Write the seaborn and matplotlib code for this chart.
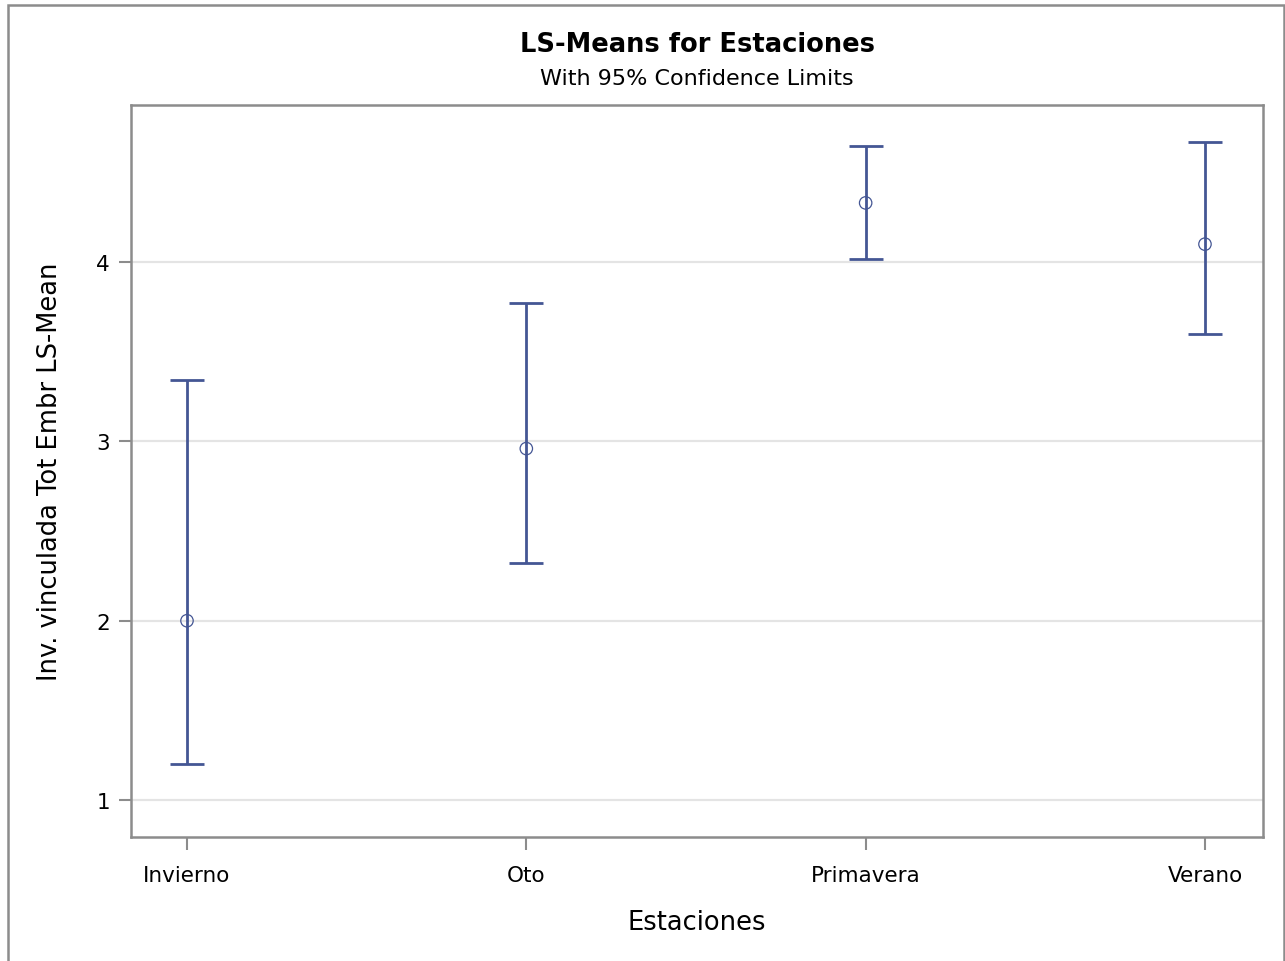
import numpy as np
import pandas as pd
import matplotlib
matplotlib.use("Agg")
import matplotlib.pyplot as plt
import seaborn as sns
from matplotlib.patches import Rectangle

estaciones = ["Invierno", "Oto", "Primavera", "Verano"]
ls_mean = [2.00, 2.96, 4.33, 4.10]
lower_cl = [1.20, 2.32, 4.02, 3.60]
upper_cl = [3.34, 3.77, 4.65, 4.67]
y_ticks = [1, 2, 3, 4]

df = pd.DataFrame({"Estaciones": estaciones, "mean": ls_mean,
                   "lower": lower_cl, "upper": upper_cl})

sns.set_theme(style="white")
plt.rcParams["font.family"] = ["DejaVu Sans"]
plt.rcParams["text.color"] = "black"
plt.rcParams["axes.labelcolor"] = "black"
plt.rcParams["xtick.labelcolor"] = "black"
plt.rcParams["ytick.labelcolor"] = "black"

color = "#445694"
frame = "#8c8c8c"

fig = plt.figure(figsize=(12.85, 9.62), dpi=100)
ax = fig.add_axes([131 / 1285, 1 - 838 / 962, (1263 - 131) / 1285, (838 - 106) / 962])

for y in y_ticks:
    ax.axhline(y, color="#e4e4e4", lw=1.6, zorder=0)

pos = np.arange(len(df))
ax.errorbar(pos, df["mean"], yerr=[df["mean"] - df["lower"], df["upper"] - df["mean"]],
            fmt="none", ecolor=color, elinewidth=2.0, capsize=12, capthick=2.0, zorder=2)
sns.scatterplot(data=df, x="Estaciones", y="mean", ax=ax, marker="o", s=80,
                facecolor="none", edgecolor=color, linewidth=0.9, zorder=3)

ax.set_xlim(-0.165, 3.171)
ax.set_ylim(0.794, 4.876)
ax.set_xticks(pos)
ax.set_xticklabels(estaciones)
ax.set_yticks(y_ticks)
ax.set_xlabel("Estaciones", fontsize=18.5, va="center")
ax.set_ylabel("Inv. vinculada Tot Embr LS-Mean", fontsize=18.5, va="center")
ax.xaxis.set_label_coords(0.5, (838 - 923) / 732)
ax.yaxis.set_label_coords((50 - 131) / 1132, 0.5)
ax.tick_params(axis="both", which="both", direction="out", length=9, width=1.5,
               color=frame, labelsize=15.5, bottom=True, left=True)
ax.tick_params(axis="x", pad=11)
ax.tick_params(axis="y", pad=6)
for sp in ax.spines.values():
    sp.set_color(frame)
    sp.set_linewidth(1.8)

fig.text(697 / 1285, 1 - 45 / 962, "LS-Means for Estaciones", ha="center", va="center",
         fontsize=18.5, fontweight="bold")
fig.text(697 / 1285, 1 - 79 / 962, "With 95% Confidence Limits", ha="center", va="center",
         fontsize=16)

fig.patches.append(Rectangle((8 / 1285, -0.1), (1284 - 8) / 1285, 1.1 - 6 / 962,
                             transform=fig.transFigure, fill=False, edgecolor=frame,
                             lw=1.8, zorder=0))

fig.savefig("out.png", dpi=100)
